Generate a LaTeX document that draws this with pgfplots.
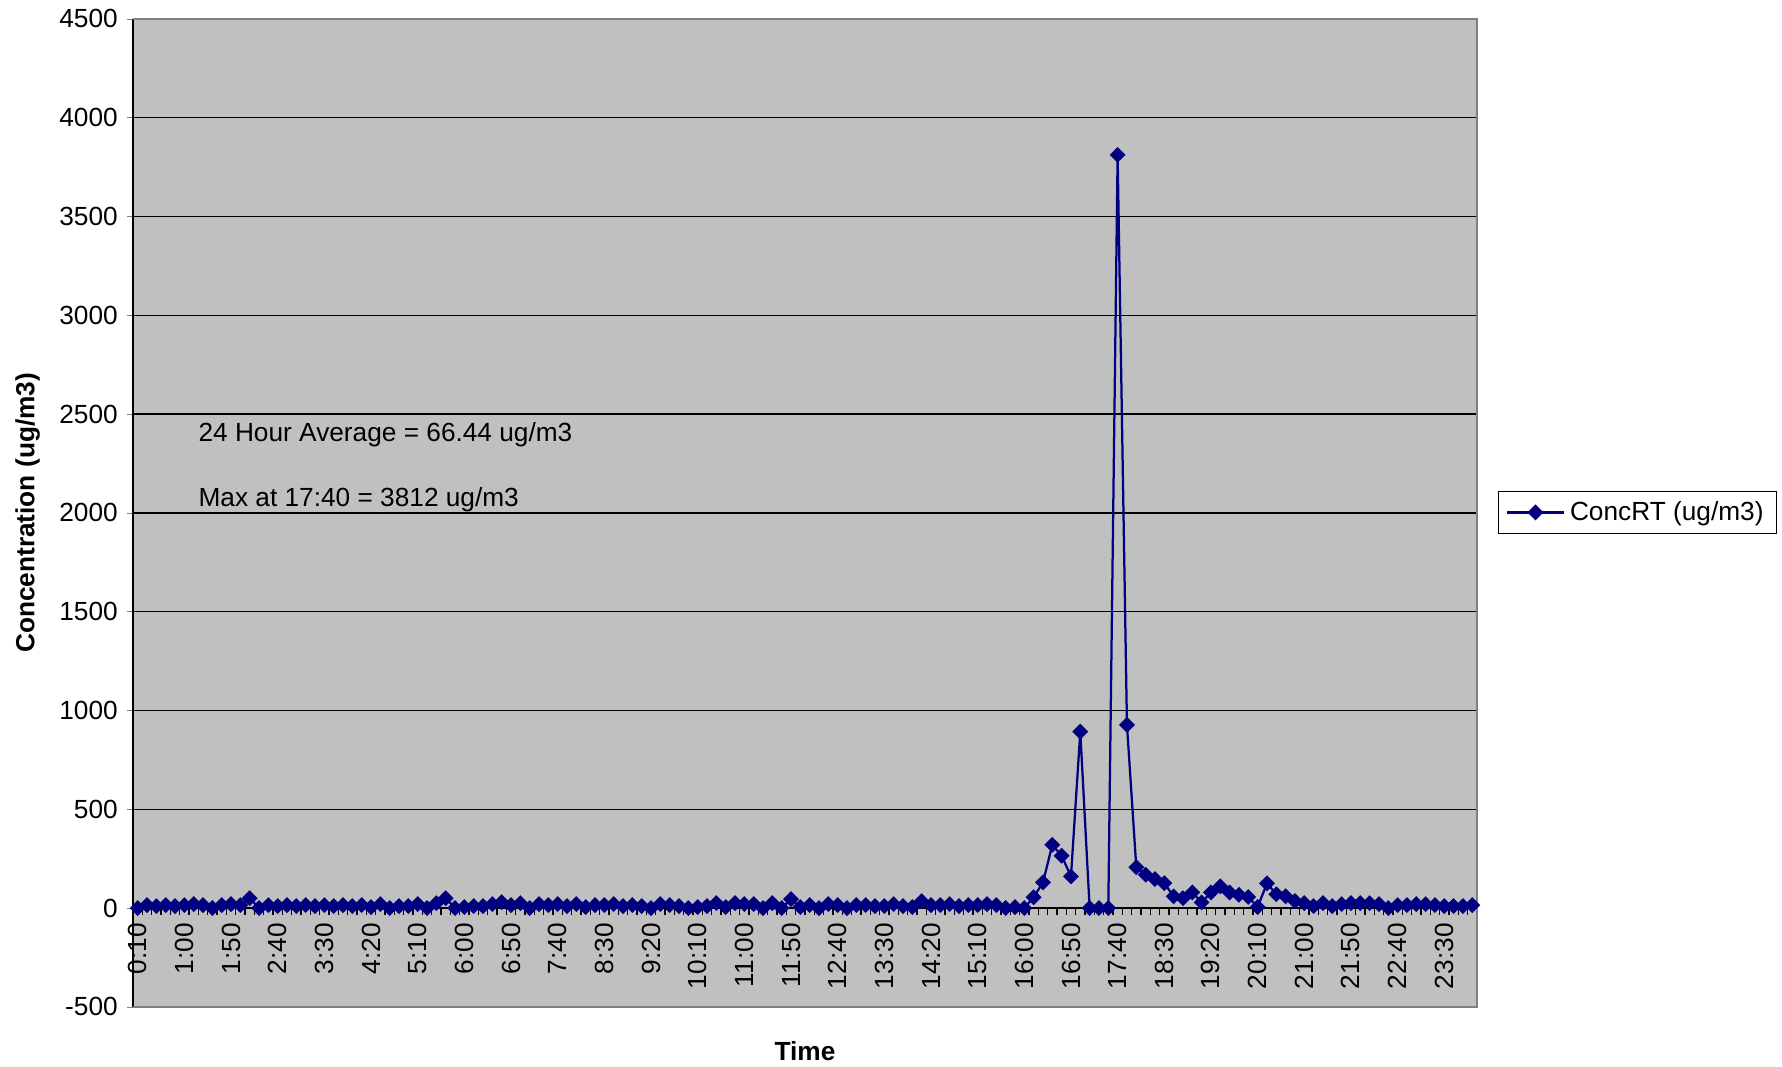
\documentclass[border=0pt]{standalone}
\usepackage{fontspec}
\setmainfont{Liberation Sans}
\usepackage{pgfplots}
\pgfplotsset{compat=1.18}
\definecolor{plotbg}{RGB}{192,192,192}
\definecolor{series}{RGB}{0,0,128}
\definecolor{framegray}{RGB}{128,128,128}
\newcommand\chartfont{\fontsize{10.5}{12.6}\selectfont}

\begin{document}
\begin{tikzpicture}
\begin{axis}[
    scale only axis,
    width=537.6pt, height=395.2pt,
    xmin=0.5, xmax=144.5,
    ymin=-500, ymax=4500,
    ytick={-500,0,...,4500},
    axis x line*=middle,
    axis y line*=left,
    axis line style={black, line width=0.6pt},
    axis background/.style={fill=plotbg},
    ymajorgrids,
    grid style={black, line width=0.5pt},
    xtick={1,6,...,141},
    xticklabels={0:10,1:00,1:50,2:40,3:30,4:20,5:10,6:00,6:50,7:40,8:30,9:20,10:10,11:00,11:50,12:40,13:30,14:20,15:10,16:00,16:50,17:40,18:30,19:20,20:10,21:00,21:50,22:40,23:30},
    minor xtick={0.5,1.5,...,144.5},
    major x tick style={draw=none},
    minor x tick style={black, line width=0.5pt},
    tick align=outside,
    major tick length=2.6pt,
    minor tick length=2.6pt,
    xticklabel style={rotate=90, anchor=east, font=\chartfont},
    yticklabel style={font=\chartfont},
    /pgf/number format/assume math mode=true,
    /pgf/number format/1000 sep={},
    scaled y ticks=false,
    ylabel={Concentration (ug/m3)},
    ylabel style={at={(-0.0785,0.5)}, anchor=center, inner sep=0pt, font=\chartfont\bfseries},
    xlabel={Time},
    xlabel style={at={(0.5,-0.0445)}, anchor=center, inner sep=0pt, font=\chartfont\bfseries},
    legend style={at={(1.0156,0.5005)}, anchor=west, draw=black, fill=white,
        font=\chartfont, inner xsep=3pt, inner ysep=2pt},
    legend image code/.code={\draw[mark repeat=2, mark phase=2] plot coordinates {(0cm,0cm) (0.4cm,0cm) (0.8cm,0cm)};},
    clip=false,
]
\draw[framegray, line width=0.8pt] (rel axis cs:0,0) -- (rel axis cs:1,0) -- (rel axis cs:1,1) -- (rel axis cs:0,1);
\addplot[color=series, line width=0.9pt, mark=square*, mark size=1.8pt,
    mark options={rotate=45, fill=series, solid}] coordinates {
    (1,0) (2,15) (3,10) (4,15) (5,10) (6,15) (7,20) (8,15) (9,0) (10,15)
    (11,20) (12,15) (13,50) (14,0) (15,15) (16,10) (17,15) (18,10) (19,15) (20,10)
    (21,15) (22,10) (23,15) (24,10) (25,15) (26,5) (27,20) (28,0) (29,10) (30,10)
    (31,20) (32,0) (33,25) (34,50) (35,0) (36,5) (37,10) (38,10) (39,20) (40,30)
    (41,15) (42,25) (43,0) (44,20) (45,15) (46,20) (47,10) (48,20) (49,5) (50,15)
    (51,15) (52,20) (53,10) (54,15) (55,10) (56,0) (57,20) (58,15) (59,10) (60,0)
    (61,5) (62,10) (63,25) (64,5) (65,25) (66,20) (67,20) (68,0) (69,25) (70,0)
    (71,45) (72,5) (73,15) (74,0) (75,20) (76,15) (77,0) (78,15) (79,15) (80,10)
    (81,10) (82,20) (83,10) (84,5) (85,35) (86,15) (87,15) (88,20) (89,10) (90,15)
    (91,15) (92,20) (93,15) (94,0) (95,5) (96,0) (97,55) (98,130) (99,320) (100,265)
    (101,160) (102,893) (103,0) (104,0) (105,0) (106,3812) (107,927) (108,207) (109,169) (110,147)
    (111,126) (112,59) (113,50) (114,79) (115,29) (116,79) (117,110) (118,79) (119,67) (120,56)
    (121,5) (122,125) (123,70) (124,60) (125,35) (126,25) (127,10) (128,25) (129,10) (130,20)
    (131,25) (132,25) (133,25) (134,20) (135,0) (136,15) (137,15) (138,20) (139,20) (140,15)
    (141,10) (142,10) (143,10) (144,15)
};
\addlegendentry{ConcRT (ug/m3)}
\node[anchor=west, font=\chartfont, inner sep=0pt] at (rel axis cs:0.0484,0.579) {24 Hour Average = 66.44 ug/m3};
\node[anchor=west, font=\chartfont, inner sep=0pt] at (rel axis cs:0.0484,0.513) {Max at 17:40 = 3812 ug/m3};
\path (rel axis cs:-0.099,-0.0607) (rel axis cs:1.227,1.0192);
\end{axis}
\end{tikzpicture}
\end{document}
